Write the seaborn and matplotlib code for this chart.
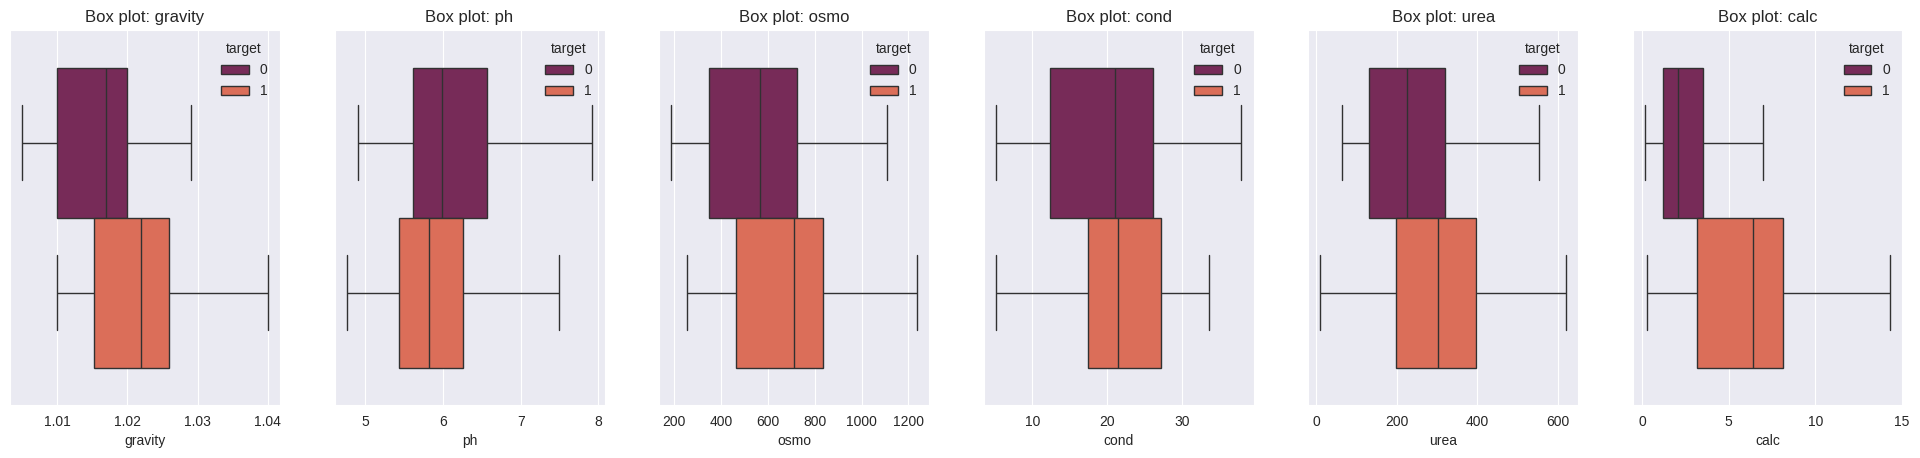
import numpy as np
import pandas as pd
import seaborn as sns
import matplotlib.pyplot as plt

# five-number summaries: min, q1, median, q3, max
features = ["gravity", "ph", "osmo", "cond", "urea", "calc"]
targets = ["0", "1"]

gravity_0 = [1.005, 1.010, 1.017, 1.020, 1.029]
gravity_1 = [1.010, 1.0153, 1.022, 1.0259, 1.040]
ph_0 = [4.90, 5.61, 5.98, 6.57, 7.92]
ph_1 = [4.76, 5.43, 5.82, 6.26, 7.49]
osmo_0 = [187, 347, 565, 726, 1107]
osmo_1 = [253, 463, 711, 836, 1236]
cond_0 = [5.1, 12.4, 21.0, 26.2, 38.0]
cond_1 = [5.1, 17.4, 21.4, 27.2, 33.7]
urea_0 = [63, 130, 224, 319, 553]
urea_1 = [10, 197, 301, 397, 620]
calc_0 = [0.17, 1.19, 2.08, 3.54, 6.96]
calc_1 = [0.27, 3.17, 6.40, 8.15, 14.34]

values = {
    "gravity": (gravity_0, gravity_1),
    "ph": (ph_0, ph_1),
    "osmo": (osmo_0, osmo_1),
    "cond": (cond_0, cond_1),
    "urea": (urea_0, urea_1),
    "calc": (calc_0, calc_1),
}


def main():
    sns.set_style("darkgrid")
    plt.rcParams["font.family"] = ["Liberation Sans", "DejaVu Sans"]

    fig, axes = plt.subplots(1, 6, figsize=(19.2, 4.58), dpi=100)

    for ax, col in zip(axes, features):
        df = pd.DataFrame(
            {
                col: values[col][0] + values[col][1],
                "target": [targets[0]] * 5 + [targets[1]] * 5,
            }
        )
        sns.boxplot(
            data=df,
            x=col,
            hue="target",
            hue_order=targets,
            palette="rocket",
            whis=(0, 100),
            ax=ax,
        )
        ax.set_title(f"Box plot: {col}")
        sns.move_legend(ax, "upper right", title="target", frameon=False)

    plt.subplots_adjust(left=0.0052, right=0.991, top=0.9345, bottom=0.1157, wspace=0.202)
    plt.savefig("out.png")


if __name__ == "__main__":
    main()
